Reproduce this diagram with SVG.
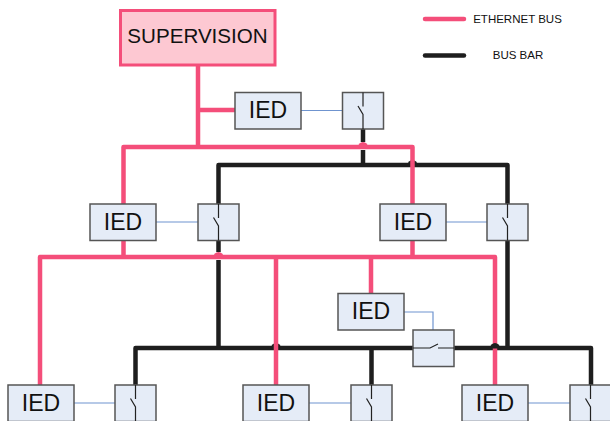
<svg xmlns="http://www.w3.org/2000/svg" width="610" height="421" viewBox="0 0 610 421">
<style>
.box{fill:#e5ecf7;stroke:#555;stroke-width:1.5}
.sw{fill:none;stroke:#222;stroke-width:1.2}
.t{font-family:"Liberation Sans",Arial,sans-serif;fill:#111;text-anchor:middle}
.ied{font-size:23px}
.leg{font-size:11.500px}
.pink{fill:none;stroke:#f44e7a;stroke-width:4.500;stroke-linejoin:round}
.black{fill:none;stroke:#1e1e1e;stroke-width:4.500;stroke-linejoin:round}
.blue{fill:none;stroke:#6f94cf;stroke-width:1.2}
.dp{fill:#f44e7a}
.db{fill:#1e1e1e}
</style>
<defs>
<g id="ied"><rect class="box" width="66" height="36.500"/><text class="t ied" x="33" y="25.500">IED</text></g>
<g id="swv"><rect class="box" width="41" height="36.500"/><path class="sw" d="M20.500 0V14M15.500 13.500L20.500 22V36.500"/></g>
<path id="dome" d="M-5 0.500A5 5.500 0 0 1 5 0.500Z"/>
</defs>
<g id="connectors">
<path class="blue" d="M301 110.500H343M156 222H198M446 222H487M404 312H433V330M74 403H115M309 403H351M528 403H570"/>
<path class="black" d="M363 127V142M363 150V165M218.500 205V165H507.500V348M218.500 240V252M218.500 260V348M135.500 385V348H591V385M371.500 348V385"/>
<use href="#dome" class="db" x="412.500" y="165"/>
<use href="#dome" class="db" x="276" y="348"/>
<path class="pink" d="M198 65V147M198 110H235M123.500 204V147H412.500V204M123.500 240V257M412.500 240V257M40 385V257H495V385M276 257V385M371 257V294"/>
<use href="#dome" class="dp" x="363" y="147"/>
<use href="#dome" class="dp" x="218.500" y="257"/>
<use href="#dome" class="db" x="495" y="348"/>
</g>
<g id="supervision"><rect x="120.500" y="10.500" width="154.500" height="54.500" fill="#fdc8d2" stroke="#f44e7a" stroke-width="3"/><text class="t" x="197.500" y="43" font-size="20.600px">SUPERVISION</text></g>
<g id="ied-top"><use href="#ied" x="235" y="92.500"/></g>
<g id="switch-top"><use href="#swv" x="342.500" y="92.500"/></g>
<g id="ied-left"><use href="#ied" x="90" y="204"/></g>
<g id="switch-left"><use href="#swv" x="198" y="204"/></g>
<g id="ied-right"><use href="#ied" x="380" y="204"/></g>
<g id="switch-right"><use href="#swv" x="487" y="204"/></g>
<g id="ied-middle"><use href="#ied" x="338" y="293.500"/></g>
<g id="switch-middle"><rect class="box" x="413" y="330" width="41" height="36.500"/><path class="sw" d="M413 348H430L438 344M438 348H454"/></g>
<g id="ied-b1"><use href="#ied" x="8" y="385"/></g>
<g id="switch-b1"><use href="#swv" x="115" y="385"/></g>
<g id="ied-b2"><use href="#ied" x="243" y="385"/></g>
<g id="switch-b2"><use href="#swv" x="351" y="385"/></g>
<g id="ied-b3"><use href="#ied" x="462" y="385"/></g>
<g id="switch-b3"><use href="#swv" x="570" y="385"/></g>
<g id="legend">
<path class="pink" stroke-linecap="round" d="M425 19H464"/>
<path class="black" stroke-linecap="round" d="M425 55.500H464"/>
<text class="t leg" x="517.500" y="23">ETHERNET BUS</text>
<text class="t leg" x="518" y="59">BUS BAR</text>
</g>
</svg>
